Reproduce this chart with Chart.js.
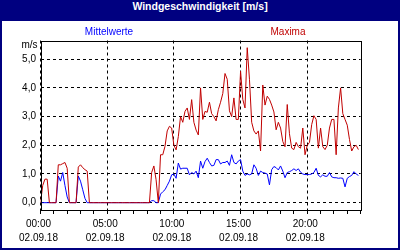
<!DOCTYPE html>
<html><head><meta charset="utf-8">
<script src="https://cdn.jsdelivr.net/npm/chart.js@4"></script>
<style>
html,body{margin:0;padding:0;background:#fff;}
#frame{position:relative;width:400px;height:250px;background:#000080;overflow:hidden;}
#title{position:absolute;left:0;top:0;width:400px;height:20px;line-height:19px;text-align:center;color:#fff;font:bold 10.5px "Liberation Sans",Arial,sans-serif;}
#inner{position:absolute;left:2px;top:21px;width:396px;height:227px;background:#fff;}
canvas{display:block;}
</style></head>
<body>
<div id="frame"><div id="title">Windgeschwindigkeit [m/s]</div><div id="inner"><canvas id="c" width="396" height="227"></canvas></div></div>
<script>
// ---- data (10-minute values, 02.09.18 00:00 .. 23:50) ----
const stepMinutes = 10;
const seriesNames = ['Mittelwerte', 'Maxima'];
const maxima = [
  0,0.6,0.82,0.82,0,0,0,0,1.32,1.32,1.36,1.4,1.2,0,0,0,0,1.24,1.32,1.22,1.15,1.1,0,0,
  0,0,0,0,0,0,0,0,0,0,0,0,0,0,0,0,0,0,0,0,0,0,0,0,
  0,0,1.05,1.28,0.8,0,1.67,1.67,1.96,2.5,2.66,2.6,2.0,1.84,2.3,3.0,2.8,3.18,3.3,2.9,3.59,2.8,2.53,2.36,
  4.0,2.9,3.18,3.15,3.5,3.1,3.0,2.85,3.24,3.5,3.8,4.5,4.3,3.2,3.0,3.65,2.9,2.9,4.58,3.6,3.3,5.4,4.3,2.8,
  2.5,2.39,2.5,1.8,4.1,3.4,3.71,3.6,3.4,3.16,2.54,2.8,2.6,2.13,1.95,3.42,2.4,1.9,1.85,2.1,1.95,1.9,2.6,1.67,
  2.0,2.1,2.72,3.03,2.9,1.9,2.6,1.95,1.85,2.0,2.6,2.9,2.9,1.67,3.3,4.0,3.1,2.9,2.7,2.2,1.8,1.95,2.0,1.85
];
const mittelwerte = [
  0,0,0,0,0,0,0,0,0.93,0.75,1.05,0.6,0.2,0,0,0,0,0.93,0.75,0.45,0.15,0,0,0,
  0,0,0,0,0,0,0,0,0,0,0,0,0,0,0,0,0,0,0,0,0,0,0,0,
  0,0,0.07,0.07,0,0,0.3,0.38,0.45,0.6,0.75,0.97,1.0,0.85,1.38,1.17,1.2,1.2,1.2,0.97,1.05,1.0,1.1,0.87,
  1.45,1.2,1.43,1.55,1.4,1.28,1.3,1.5,1.5,1.35,1.4,1.4,1.45,1.3,1.67,1.4,1.35,1.45,1.5,1.1,0.95,1.0,0.97,1.0,
  1.32,1.2,0.95,1.1,1.05,1.03,1.0,0.62,1.15,1.26,1.22,1.14,1.28,1.1,0.87,1.05,1.08,1.12,1.18,1.12,1.18,1.06,1.0,0.98,
  0.98,0.98,1.0,1.05,1.2,0.95,0.9,0.97,0.92,0.92,1.05,0.9,0.87,0.87,0.85,0.86,0.85,0.55,0.85,0.91,0.95,1.08,1.0,0.95
];
const yTicks = [0, 1, 2, 3, 4, 5];
const xTickHours = [0,1,2,3,4,5,6,7,8,9,10,11,12,13,14,15,16,17,18,19,20,21,22,23,24];
const majorHours = [0, 5, 10, 15, 20];
const xTimeLabels = ['00:00', '05:00', '10:00', '15:00', '20:00'];
const dateLabel = '02.09.18';
const yUnit = 'm/s';

const BLUE = '#0000ff', RED = '#c00000';
const FONT = '"Liberation Sans", Arial, sans-serif';
const toPts = arr => arr.map((v, i) => ({x: i * stepMinutes / 60, y: v}));

const decor = {
  id: 'decor',
  afterDraw(chart) {
    const {ctx, chartArea: a} = chart;
    ctx.save();
    ctx.strokeStyle = '#000'; ctx.lineWidth = 1; ctx.setLineDash([]);
    const l = Math.round(a.left), t = Math.round(a.top), r = Math.round(a.right), b = Math.round(a.bottom);
    ctx.strokeRect(l + 0.5, t + 0.5, r - l, b - t);
    ctx.font = '10px ' + FONT;
    ctx.textBaseline = 'middle';
    ctx.fillStyle = '#000'; ctx.textAlign = 'right';
    ctx.fillText(yUnit, a.left - 3, a.top + 5);
    ctx.textAlign = 'center';
    ctx.fillStyle = BLUE; ctx.fillText(seriesNames[0], 107, 11);
    ctx.fillStyle = RED; ctx.fillText(seriesNames[1], 286, 11);
    ctx.restore();
  }
};

new Chart(document.getElementById('c'), {
  type: 'line',
  data: {
    datasets: [
      {label: seriesNames[1], data: toPts(maxima), borderColor: RED, borderWidth: 1, pointRadius: 0, tension: 0, fill: false},
      {label: seriesNames[0], data: toPts(mittelwerte), borderColor: BLUE, borderWidth: 1, pointRadius: 0, tension: 0, fill: false}
    ]
  },
  options: {
    responsive: false, animation: false, devicePixelRatio: 1,
    layout: {padding: {left: 0, right: 37.4, top: 19.5, bottom: 0}},
    plugins: {legend: {display: false}, tooltip: {enabled: false}, title: {display: false}},
    scales: {
      x: {
        type: 'linear', min: 0, max: 24,
        afterBuildTicks: s => { s.ticks = xTickHours.map(v => ({value: v})); },
        afterFit: s => { s.height = 38; },
        grid: {
          color: c => (c.tick && majorHours.includes(c.tick.value)) ? '#000' : 'rgba(0,0,0,0)',
          tickColor: '#000', tickLength: 4, lineWidth: 1, drawTicks: true
        },
        border: {display: false, dash: [3, 3]},
        ticks: {
          autoSkip: false, maxRotation: 0, padding: 3, color: '#000', labelOffset: -2,
          font: {family: FONT, size: 10, lineHeight: 1.4},
          callback: v => { const k = majorHours.indexOf(v); return k >= 0 ? [xTimeLabels[k], dateLabel] : ''; }
        }
      },
      y: {
        min: -0.255, max: 5.65,
        afterBuildTicks: s => { s.ticks = yTicks.map(v => ({value: v})); },
        afterFit: s => { s.width = 38.5; },
        grid: {color: '#000', drawTicks: false, lineWidth: 1},
        border: {display: false, dash: [3, 3]},
        ticks: {
          padding: 4.5, color: '#000', font: {family: FONT, size: 10},
          callback: v => v.toFixed(1).replace('.', ',')
        }
      }
    }
  },
  plugins: [decor]
});
</script>
</body></html>
